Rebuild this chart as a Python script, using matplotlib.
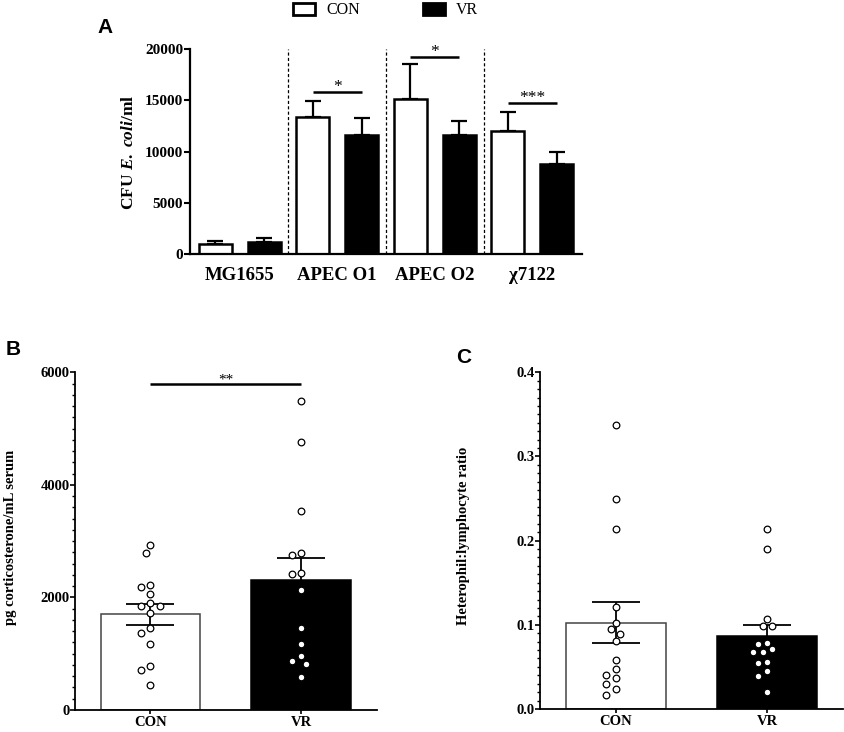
import numpy as np
import matplotlib
matplotlib.use("Agg")
import matplotlib.pyplot as plt
from matplotlib.patches import Rectangle

# ---------------- data ----------------
strains = ["MG1655", "APEC O1", "APEC O2", "χ7122"]
con_cfu = [1000, 13400, 15120, 12000]
con_cfu_err = [300, 1560, 3420, 1820]
vr_cfu = [1140, 11640, 11610, 8750]
vr_cfu_err = [450, 1600, 1330, 1230]
sig_groups = [1, 2, 3]
sig_labels = ["*", "*", "***"]
sig_heights = [15770, 19250, 14700]

groups = ["CON", "VR"]
cort_mean = [1700, 2310]
cort_sem = [190, 385]
cort_con = [2932, 2790, 2221, 2191, 2055, 1895, 1842, 1842, 1718, 1451,
            1368, 1173, 782, 705, 438]
cort_vr = [5485, 4757, 3542, 2784, 2754, 2440, 2423, 2132, 1457, 1173,
           960, 877, 823, 592]
cort_sig_label = "**"
cort_sig_height = 5790

hl_mean = [0.1026, 0.0863]
hl_sem = [0.0242, 0.0131]
hl_con = [0.337, 0.250, 0.214, 0.121, 0.1026, 0.0947, 0.0891, 0.0804,
          0.0578, 0.0475, 0.0400, 0.0372, 0.0301, 0.0238, 0.0166]
hl_vr = [0.214, 0.190, 0.107, 0.099, 0.0986, 0.0788, 0.0776, 0.0709,
         0.0673, 0.0673, 0.0562, 0.0547, 0.0455, 0.0388, 0.0202]

# ---------------- style ----------------
plt.rcParams["font.family"] = ["Liberation Serif", "DejaVu Serif"]
plt.rcParams["font.weight"] = "bold"
plt.rcParams["mathtext.fontset"] = "custom"
plt.rcParams["mathtext.rm"] = "Liberation Serif:bold"
plt.rcParams["mathtext.bf"] = "Liberation Serif:bold"
plt.rcParams["mathtext.it"] = "Liberation Serif:italic:bold"

W, H = 844, 732
fig = plt.figure(figsize=(W / 100, H / 100), dpi=100)


def fbox(x0, y0, x1, y1):
    return [x0 / W, 1 - y1 / H, (x1 - x0) / W, (y1 - y0) / H]


# ---------------- panel A ----------------
axA = fig.add_axes(fbox(190, 49, 582, 254))
x = np.arange(len(strains))
bw = 0.34
axA.bar(x - 0.25, con_cfu, bw, color="white", edgecolor="black", linewidth=1.8, zorder=2)
axA.bar(x + 0.25, vr_cfu, bw, color="black", edgecolor="black", linewidth=1.8, zorder=2)
axA.errorbar(x - 0.25, con_cfu, yerr=[np.zeros(4), con_cfu_err], fmt="none",
             ecolor="black", elinewidth=1.6, capsize=6, capthick=1.6, zorder=1)
axA.errorbar(x + 0.25, vr_cfu, yerr=[np.zeros(4), vr_cfu_err], fmt="none",
             ecolor="black", elinewidth=1.6, capsize=6, capthick=1.6, zorder=1)
for b in [0.5, 1.5, 2.5]:
    axA.axvline(b, color="black", lw=0.9, ls=(0, (2.5, 1.8)), zorder=0)
for g, lab, h in zip(sig_groups, sig_labels, sig_heights):
    axA.plot([g - 0.25, g + 0.25], [h, h], color="black", lw=1.8, solid_capstyle="butt")
    axA.text(g, h - 280, lab, ha="center", va="bottom", fontsize=12.5, fontweight="normal")
axA.set_xlim(-0.51, 3.51)
axA.set_ylim(0, 20000)
axA.set_yticks([0, 5000, 10000, 15000, 20000])
axA.set_xticks(x)
axA.set_xticklabels(strains, fontsize=13.5)
axA.tick_params(axis="x", length=0, pad=9)
axA.tick_params(axis="y", length=4, width=1.5, pad=1, labelsize=11)
for s in ["top", "right"]:
    axA.spines[s].set_visible(False)
for s in ["left", "bottom"]:
    axA.spines[s].set_linewidth(1.6)
fig.text(129 / W, 1 - 152 / H, r"CFU $\mathit{E.\ coli}$/ml", rotation=90,
         ha="center", va="center", fontsize=12.5)

# legend
for bx, fc, lab, tx in [(293, "white", "CON", 326), (423, "black", "VR", 456)]:
    fig.patches.append(Rectangle((bx / W, 1 - 15 / H), 22 / W, 12 / H,
                                 transform=fig.transFigure, facecolor=fc,
                                 edgecolor="black", linewidth=2.0))
    fig.text(tx / W, 1 - 9.5 / H, lab, ha="left", va="center", fontsize=11.5,
             fontweight="normal")


# ---------------- helpers ----------------
def swarm_x(ax, xc, vals, diam_px=8.0, step_px=4.7):
    vals = np.asarray(vals, dtype=float)
    pts = ax.transData.transform(np.column_stack([np.full(len(vals), xc), vals]))
    x0 = pts[0, 0]
    ys = pts[:, 1]
    order = np.argsort(-vals, kind="stable")
    placed = []
    dxs = np.zeros(len(vals))
    for i in order:
        for k in [0, -1, 1, -2, 2, -3, 3, -4, 4, -5, 5, -6, 6]:
            dx = k * step_px
            if all((dx - px) ** 2 + (ys[i] - py) ** 2 >= diam_px ** 2 for px, py in placed):
                break
        placed.append((dx, ys[i]))
        dxs[i] = dx
    inv = ax.transData.inverted()
    return np.array([inv.transform((x0 + dxs[i], ys[i]))[0] for i in range(len(vals))])


def dot_panel(ax, means, sems, con_pts, vr_pts, ylim, major, minor):
    xs = np.arange(2)
    ax.set_xlim(-0.5, 1.5)
    ax.set_ylim(*ylim)
    ax.bar(xs, means, 0.66, color=["white", "black"], edgecolor=["#444444", "black"],
           linewidth=1.1, zorder=1)
    ax.errorbar(xs, means, yerr=sems, fmt="none", ecolor="black", elinewidth=1.3,
                capsize=17, capthick=1.3, zorder=2)
    for xc, pts in zip(xs, [con_pts, vr_pts]):
        px = swarm_x(ax, xc, pts)
        ax.scatter(px, pts, s=23, facecolor="white", edgecolor="black",
                   linewidth=0.9, zorder=3)
    ax.set_yticks(major)
    ax.set_yticks(minor, minor=True)
    ax.set_xticks(xs)
    ax.set_xticklabels(groups, fontsize=10.5)
    ax.tick_params(axis="x", length=3, width=1.2, pad=1.5)
    ax.tick_params(axis="y", which="major", length=3.5, width=1.2, pad=0.5, labelsize=10.5)
    ax.tick_params(axis="y", which="minor", length=2, width=1.0)
    for s in ["top", "right"]:
        ax.spines[s].set_visible(False)
    for s in ["left", "bottom"]:
        ax.spines[s].set_linewidth(1.3)


# ---------------- panel B ----------------
axB = fig.add_axes(fbox(75, 372.3, 376.7, 710))
dot_panel(axB, cort_mean, cort_sem, cort_con, cort_vr, (0, 6000),
          [0, 2000, 4000, 6000], np.arange(0, 6001, 200))
axB.plot([0, 1], [cort_sig_height, cort_sig_height], color="black", lw=1.8,
         solid_capstyle="butt")
axB.text(0.5, cort_sig_height - 50, cort_sig_label, ha="center", va="bottom",
         fontsize=11, fontweight="normal")
axB.set_yticklabels(["0", "2000", "4000", "6000"])
fig.text(11 / W, 1 - 537 / H, "pg corticosterone/mL serum", rotation=90,
         ha="center", va="center", fontsize=10.5)

# ---------------- panel C ----------------
axC = fig.add_axes(fbox(540, 372.3, 843, 709))
dot_panel(axC, hl_mean, hl_sem, hl_con, hl_vr, (0, 0.4),
          [0, 0.1, 0.2, 0.3, 0.4], np.arange(0, 0.4001, 0.01))
axC.set_yticklabels(["0.0", "0.1", "0.2", "0.3", "0.4"])
fig.text(464 / W, 1 - 536 / H, "Heterophil:lymphocyte ratio", rotation=90,
         ha="center", va="center", fontsize=10.5)

# panel letters
for lab, lx, ly in [("A", 97, 33), ("B", 6, 355), ("C", 456, 363)]:
    fig.text(lx / W, 1 - ly / H, lab, ha="left", va="baseline", fontsize=15,
             family="Liberation Sans", fontweight="bold")

fig.savefig("out.png", dpi=100)
